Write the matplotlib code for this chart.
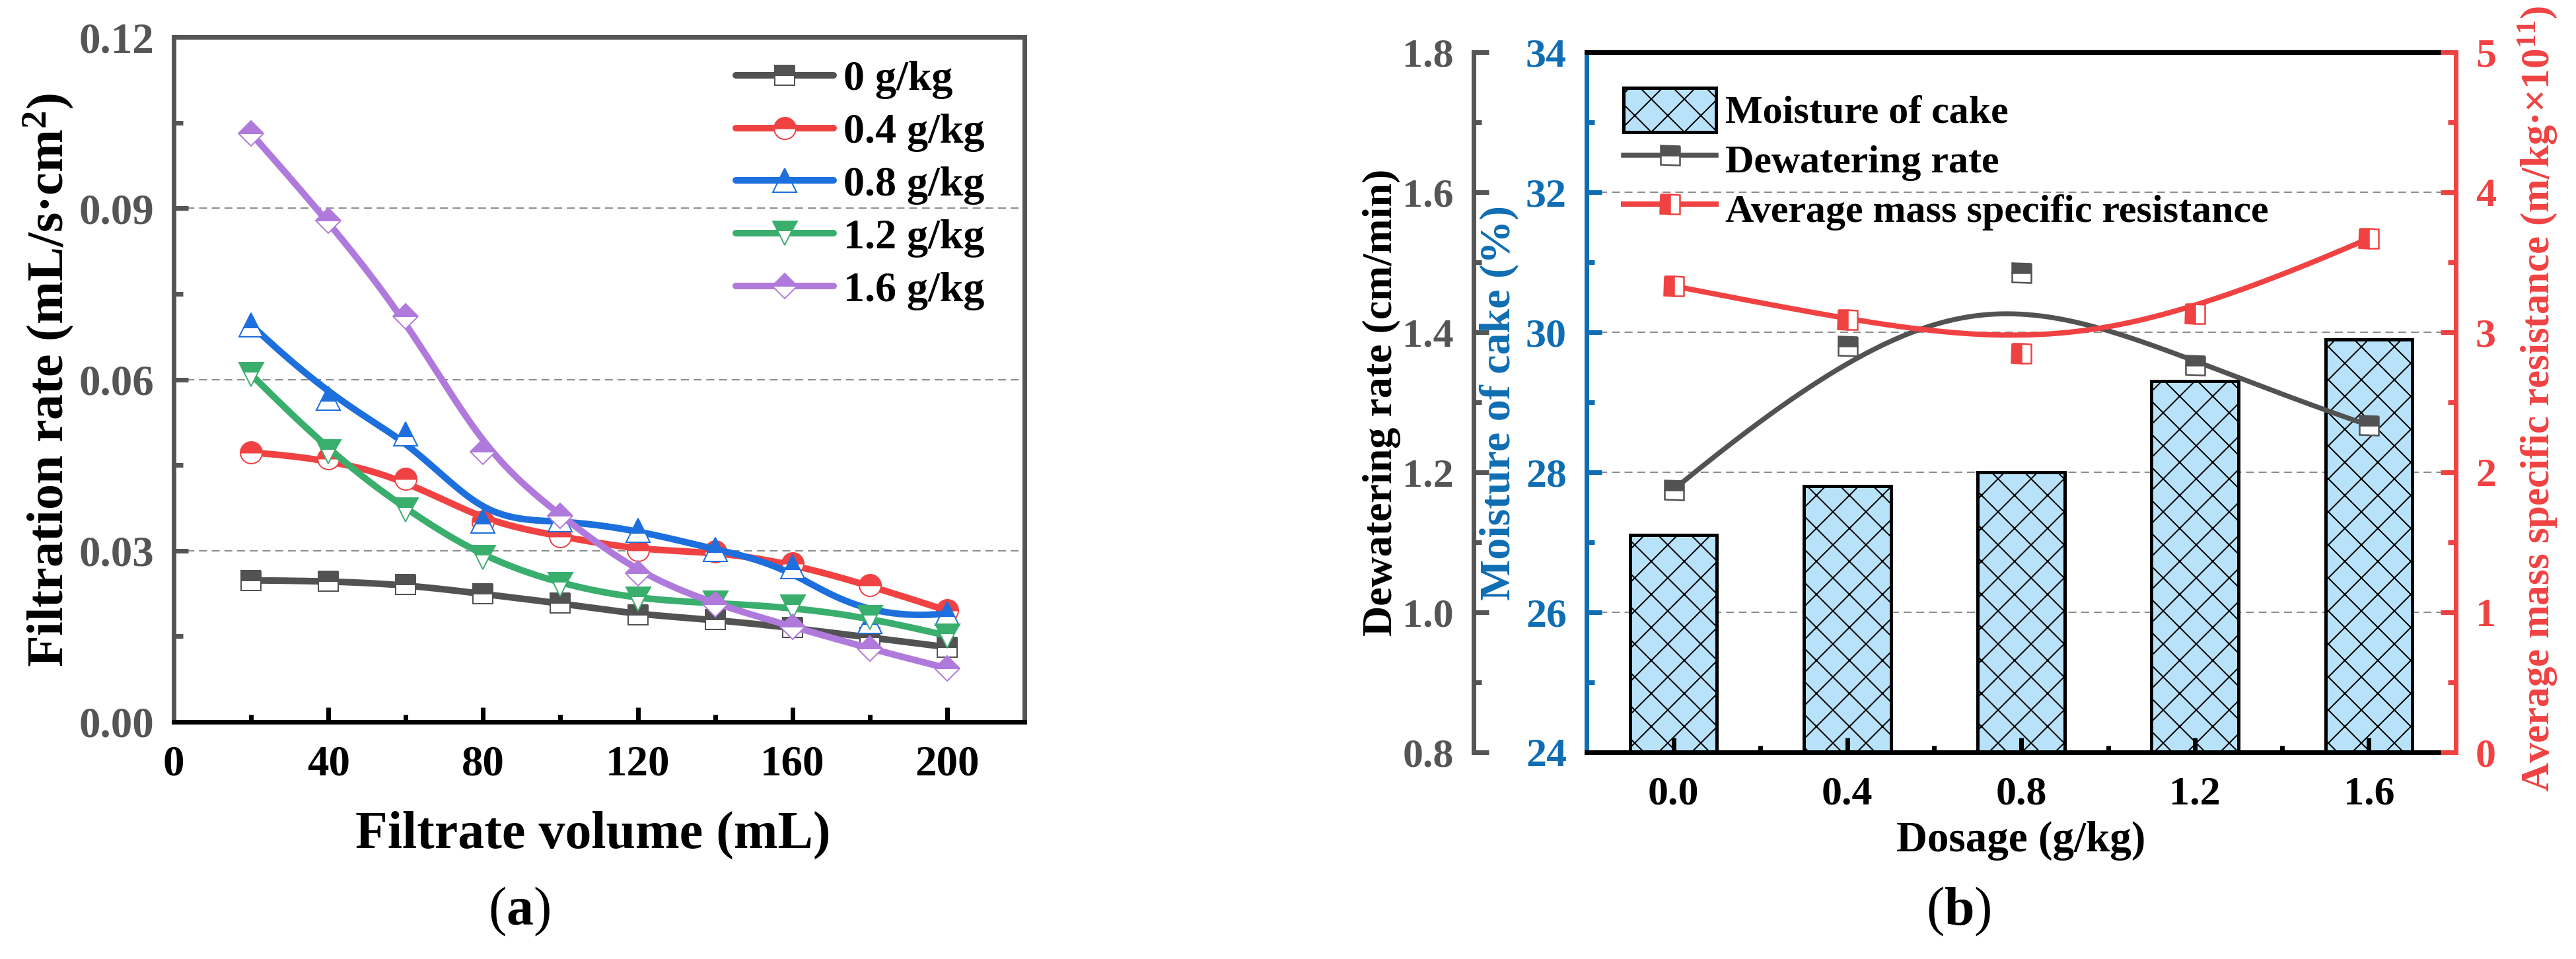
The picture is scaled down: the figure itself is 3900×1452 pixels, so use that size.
import matplotlib
matplotlib.use("Agg")
import matplotlib.pyplot as plt
import numpy as np
from matplotlib.ticker import MultipleLocator, FixedLocator
from matplotlib.lines import Line2D

# ---------------- data ----------------
filtrate_volume = [20, 40, 60, 80, 100, 120, 140, 160, 180, 200]
rate_0_0 = [0.0248, 0.0247, 0.0241, 0.0224, 0.0208, 0.0188, 0.0179, 0.0165, 0.0148, 0.0131]
rate_0_4 = [0.0472, 0.0462, 0.0426, 0.0351, 0.0325, 0.0301, 0.0298, 0.0278, 0.0239, 0.0195]
rate_0_8 = [0.0696, 0.0567, 0.0505, 0.0352, 0.0354, 0.0336, 0.0302, 0.0272, 0.0176, 0.0190]
rate_1_2 = [0.0609, 0.0473, 0.0371, 0.0288, 0.0241, 0.0215, 0.0208, 0.0201, 0.0183, 0.0151]
rate_1_6 = [0.1031, 0.0878, 0.0711, 0.0473, 0.0361, 0.0260, 0.0206, 0.0167, 0.0128, 0.0094]
series_labels_a = ["0 g/kg", "0.4 g/kg", "0.8 g/kg", "1.2 g/kg", "1.6 g/kg"]
xticks_a = [0, 40, 80, 120, 160, 200]
yticks_a = [0.00, 0.03, 0.06, 0.09, 0.12]
yticklabels_a = ["0.00", "0.03", "0.06", "0.09", "0.12"]

dosage_labels = ["0.0", "0.4", "0.8", "1.2", "1.6"]
moisture_cake = [27.1, 27.8, 28.0, 29.3, 29.9]
dewatering_rate = [1.175, 1.380, 1.485, 1.353, 1.267]
mass_resistance = [3.33, 3.09, 2.85, 3.13, 3.67]
series_labels_b = ["Moisture of cake", "Dewatering rate", "Average mass specific resistance"]
yticks_dw = [0.8, 1.0, 1.2, 1.4, 1.6, 1.8]
yticks_mc = [24, 26, 28, 30, 32, 34]
yticks_rs = [0, 1, 2, 3, 4, 5]

# ---------------- style ----------------
W, H, DPI = 3900, 1452, 150
PT = 72.0 / DPI  # points per pixel

plt.rcParams.update({
    "font.family": ["Liberation Serif", "DejaVu Serif"],
    "font.weight": "bold",
    "mathtext.fontset": "custom",
    "mathtext.rm": "Liberation Serif:bold",
    "mathtext.bf": "Liberation Serif:bold",
    "mathtext.it": "Liberation Serif:bold:italic",
    "mathtext.sf": "Liberation Serif:regular",
    "hatch.linewidth": 2 * PT,
})

GRAY = "#525252"
BLUE = "#0F6DB3"
RED = "#F04242"
GRID = "#8c8c8c"
DASH = (0, (6, 3.6))


def bspline(xs, ys, k=3, n=400):
    """Clamped cubic B-spline with the data points as control points (Origin 'B-Spline' line)."""
    P = np.column_stack([np.asarray(xs, float), np.asarray(ys, float)])
    m = len(P)
    kn = np.concatenate([np.zeros(k), np.arange(m - k + 1, dtype=float), np.full(k, m - k, dtype=float)])
    t = np.linspace(0, m - k, n)
    t[-1] -= 1e-9
    N = np.zeros((n, len(kn) - 1))
    for i in range(len(kn) - 1):
        N[:, i] = (t >= kn[i]) & (t < kn[i + 1])
    for d in range(1, k + 1):
        Nn = np.zeros((n, len(kn) - 1 - d))
        for i in range(len(kn) - 1 - d):
            term = np.zeros(n)
            d1 = kn[i + d] - kn[i]
            d2 = kn[i + d + 1] - kn[i + 1]
            if d1 > 0:
                term += (t - kn[i]) / d1 * N[:, i]
            if d2 > 0:
                term += (kn[i + d + 1] - t) / d2 * N[:, i + 1]
            Nn[:, i] = term
        N = Nn
    C = N @ P
    return C[:, 0], C[:, 1]


def rect(l, t, r, b):
    return [l / W, 1 - b / H, (r - l) / W, (b - t) / H]


def ftext(x, y, s, **kw):
    fig.text(x / W, 1 - y / H, s, ha="center", va="center", **kw)


fig = plt.figure(figsize=(W / DPI, H / DPI), dpi=DPI)

# ================= panel (a) =================
axa = fig.add_axes(rect(263, 56, 1551, 1093))
axa.set_xlim(0, 220)
axa.set_ylim(0, 0.12)
axa.set_xticks(xticks_a)
axa.set_yticks(yticks_a, labels=yticklabels_a)
axa.xaxis.set_minor_locator(MultipleLocator(20))
axa.yaxis.set_minor_locator(MultipleLocator(0.015))
axa.grid(axis="y", color=GRID, lw=2 * PT, ls=DASH)

for s in ["left", "right", "top"]:
    axa.spines[s].set_color("#555555")
for s in axa.spines.values():
    s.set_linewidth(7 * PT)
axa.spines["bottom"].set_color("black")
axa.tick_params(axis="y", which="both", direction="in", colors="#555555", width=7 * PT,
                pad=30 * PT, labelsize=65 * PT)
axa.tick_params(axis="y", which="major", length=22 * PT)
axa.tick_params(axis="y", which="minor", length=14 * PT)
axa.tick_params(axis="x", which="both", direction="in", colors="black", width=7 * PT,
                pad=35 * PT, labelsize=65 * PT)
axa.tick_params(axis="x", which="major", length=22 * PT)
axa.tick_params(axis="x", which="minor", length=11 * PT)

series_a = [rate_0_0, rate_0_4, rate_0_8, rate_1_2, rate_1_6]
colors_a = [GRAY, RED, "#1C6FDC", "#3AAE6D", "#B07ADC"]
markers_a = ["s", "o", "^", "v", "D"]
msize_a = [30 * PT, 33 * PT, 37 * PT, 37 * PT, 27 * PT]
handles_a = []
for i, (ys, c, mk, ms) in enumerate(zip(series_a, colors_a, markers_a, msize_a)):
    cx, cy = bspline(filtrate_volume, ys)
    axa.plot(cx, cy, color=c, lw=10 * PT, solid_capstyle="round", zorder=2 + i * 0.1)
    mstyle = dict(marker=mk, ms=ms, mfc=c, markerfacecoloralt="white", mec=c,
                  mew=2 * PT, fillstyle="top")
    axa.plot(filtrate_volume, ys, ls="none", zorder=2.05 + i * 0.1, **mstyle)
    handles_a.append(Line2D([0], [0], color=c, lw=10 * PT, solid_capstyle="round", **mstyle))

axa.legend(handles_a, series_labels_a, loc="upper left", bbox_to_anchor=(0.661, 0.966),
           frameon=False, fontsize=64 * PT, handlelength=2.3, handletextpad=0.24,
           labelspacing=0.33, borderpad=0, borderaxespad=0, numpoints=1)

ftext(74, 576, "Filtration rate (mL/s·cm$^{2}$)", rotation=90, fontsize=78 * PT)
ftext(898, 1264, "Filtrate volume (mL)", fontsize=80 * PT)
ftext(786, 1380, r"$\mathsf{(}$a$\mathsf{)}$", fontsize=82 * PT)

# ================= panel (b) =================
xb = np.arange(len(dosage_labels))
axb = fig.add_axes(rect(2402, 79, 3718, 1139))
axb.set_xlim(-0.5, len(dosage_labels) - 0.5)
axb.set_ylim(yticks_mc[0], yticks_mc[-1])
for v in yticks_mc[1:-1]:
    axb.axhline(v, color=GRID, lw=2 * PT, ls=DASH, zorder=0.5)
bars = axb.bar(xb, moisture_cake, width=0.5, color="#B8E2FA", edgecolor="black",
               linewidth=5 * PT, hatch="x", zorder=1)
axb.set_xticks(xb, labels=dosage_labels)
axb.xaxis.set_minor_locator(FixedLocator(xb[:-1] + 0.5))
axb.set_yticks(yticks_mc)
axb.yaxis.set_minor_locator(MultipleLocator(1))
for s in axb.spines.values():
    s.set_linewidth(7 * PT)
axb.spines["left"].set_color(BLUE)
axb.spines["right"].set_visible(False)
axb.tick_params(axis="y", which="both", direction="in", colors=BLUE, width=7 * PT,
                pad=30 * PT, labelsize=62 * PT)
axb.tick_params(axis="y", which="major", length=23 * PT)
axb.tick_params(axis="y", which="minor", length=12 * PT)
axb.tick_params(axis="x", which="both", direction="in", colors="black", width=7 * PT,
                pad=36 * PT, labelsize=62 * PT)
axb.tick_params(axis="x", which="major", length=22 * PT)
axb.tick_params(axis="x", which="minor", length=10 * PT)

# dewatering rate axis (offset left)
axd = axb.twinx()
axd.set_ylim(yticks_dw[0], yticks_dw[-1])
axd.yaxis.tick_left()
axd.yaxis.set_label_position("left")
for s in ["right", "top", "bottom"]:
    axd.spines[s].set_visible(False)
axd.spines["left"].set_visible(True)
axd.spines["left"].set_position(("axes", (2231 - 2402) / 1316))
axd.spines["left"].set_color("#555555")
axd.spines["left"].set_linewidth(7 * PT)
axd.set_yticks(yticks_dw, labels=[f"{v:.1f}" for v in yticks_dw])
axd.yaxis.set_minor_locator(MultipleLocator(0.1))
axd.tick_params(axis="y", which="both", direction="in", colors="#555555", width=7 * PT,
                pad=30 * PT, labelsize=62 * PT)
axd.tick_params(axis="y", which="major", length=23 * PT)
axd.tick_params(axis="y", which="minor", length=12 * PT)
cx, cy = bspline(xb, dewatering_rate)
axd.plot(cx, cy, color=GRAY, lw=7.5 * PT, zorder=2)
dw_style = dict(marker="s", ms=29 * PT, mfc=GRAY, markerfacecoloralt="white", mec=GRAY,
                mew=2.5 * PT, fillstyle="top")
axd.plot(xb, dewatering_rate, ls="none", zorder=3, **dw_style)

# resistance axis (right)
axr = axb.twinx()
axr.set_ylim(yticks_rs[0], yticks_rs[-1])
for s in ["left", "top", "bottom"]:
    axr.spines[s].set_visible(False)
axr.spines["right"].set_color(RED)
axr.spines["right"].set_linewidth(7 * PT)
axr.set_yticks(yticks_rs)
axr.yaxis.set_minor_locator(MultipleLocator(0.5))
axr.tick_params(axis="y", which="both", direction="in", colors=RED, width=7 * PT,
                pad=30 * PT, labelsize=62 * PT)
axr.tick_params(axis="y", which="major", length=23 * PT)
axr.tick_params(axis="y", which="minor", length=12 * PT)
cx, cy = bspline(xb, mass_resistance)
axr.plot(cx, cy, color=RED, lw=8 * PT, zorder=2)
rs_style = dict(marker="s", ms=29 * PT, mfc=RED, markerfacecoloralt="white", mec=RED,
                mew=2.5 * PT, fillstyle="left")
axr.plot(xb, mass_resistance, ls="none", zorder=3, **rs_style)

h_dw = Line2D([0], [0], color=GRAY, lw=7.5 * PT, **dw_style)
h_rs = Line2D([0], [0], color=RED, lw=8 * PT, **rs_style)
axr.legend([bars, h_dw, h_rs], series_labels_b,
           loc="upper left", bbox_to_anchor=(0.0426, 0.949), frameon=False, fontsize=60 * PT,
           handlelength=2.33, handleheight=1.34, handletextpad=0.23, labelspacing=0.13,
           borderpad=0, borderaxespad=0, numpoints=1)

ftext(2092, 609, "Dewatering rate (cm/min)", rotation=90, fontsize=64 * PT, color="black")
ftext(2270, 610, "Moisture of cake (%)", rotation=90, fontsize=66 * PT, color=BLUE)
ftext(3842, 604, "Average mass specific resistance (m/kg·×10$^{11}$)", rotation=90,
      fontsize=61 * PT, color=RED)
ftext(3060, 1273, "Dosage (g/kg)", fontsize=65 * PT)
ftext(2965, 1380, r"$\mathsf{(}$b$\mathsf{)}$", fontsize=82 * PT)

fig.savefig("out.png", dpi=DPI)
